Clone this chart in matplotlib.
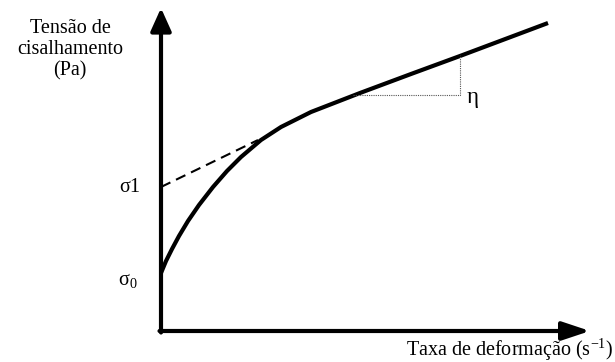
import numpy as np
import matplotlib.pyplot as plt

# --------------------
# Values (origin at the axes corner)
# --------------------
curve_x = [0, 5, 11, 18, 27, 38, 52, 66, 80, 100, 120, 150, 199, 250, 299, 387]
curve_y = [58, 70, 82, 95, 110, 126, 144, 160, 174, 191, 204, 219, 238, 257, 275, 308]

tangent_x = [0, 97]
tangent_y = [144, 191]

slope_x = [192, 299, 299]
slope_y = [236, 236, 276]

y_label = "Tensão de\ncisalhamento\n(Pa)"
x_label = "Taxa de deformação (s$^{\\mathregular{-1}}$)"
sigma1_label = "σ1"
sigma0_label = "σ$_{\\mathregular{0}}$"
eta_label = "η"

plt.rcParams['font.family'] = ['Liberation Serif', 'DejaVu Serif']
plt.rcParams['mathtext.fontset'] = 'custom'
plt.rcParams['mathtext.rm'] = 'Liberation Serif'

fig = plt.figure(figsize=(6.15, 3.62), dpi=100)
ax = fig.add_axes([0, 0, 1, 1])
ax.set_xlim(-161, 454)
ax.set_ylim(-31, 331)
ax.axis("off")

# axes with arrows
ax.annotate("", xy=(0, 323), xytext=(0, -1.5),
            arrowprops=dict(arrowstyle="-|>,head_length=1.0,head_width=0.45",
                            lw=3, color="black", shrinkA=0, shrinkB=0,
                            mutation_scale=14))
ax.annotate("", xy=(429, 0), xytext=(-1.5, 0),
            arrowprops=dict(arrowstyle="-|>,head_length=1.2,head_width=0.4",
                            lw=3, color="black", shrinkA=0, shrinkB=0,
                            mutation_scale=14))

# flow curve
ax.plot(curve_x, curve_y, color="black", lw=3, solid_capstyle="butt",
        solid_joinstyle="round")

# tangent (dashed)
ax.plot(tangent_x, tangent_y, color="black", lw=1.5, linestyle=(0, (5, 3)))

# slope triangle
ax.plot(slope_x, slope_y, color="#555555", lw=0.8, linestyle=(0, (1, 1)))

fs = 14.5
ax.text(-91, 281, y_label, ha="center", va="center", fontsize=fs,
        linespacing=1.15)
ax.text(-21, 144, sigma1_label, ha="right", va="center", fontsize=fs)
ax.text(-23, 50, sigma0_label, ha="right", va="center", fontsize=fs)
ax.text(306, 234, eta_label, ha="left", va="center", fontsize=fs + 2)
ax.text(452, -19, x_label, ha="right", va="center", fontsize=fs)

fig.savefig("out.png", dpi=100)
